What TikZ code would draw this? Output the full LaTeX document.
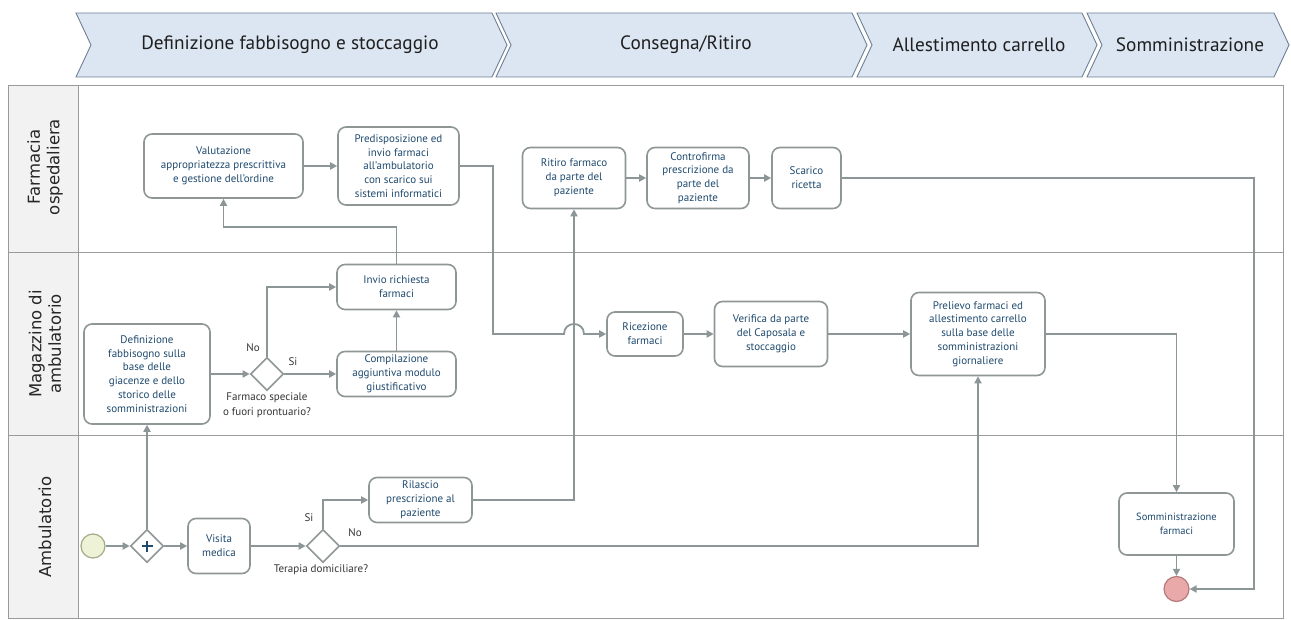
\documentclass[tikz,border=0pt]{standalone}
\usepackage{fontspec}
\setmainfont{PT Sans}
\newfontfamily\lanefont{DejaVu Sans}
\usetikzlibrary{arrows.meta,shapes.geometric}

\definecolor{boxline}{HTML}{8E9696}
\definecolor{boxtext}{HTML}{1F4A6E}
\definecolor{flowline}{HTML}{8C9696}
\definecolor{chevfill}{HTML}{DCE6F2}
\definecolor{chevline}{HTML}{6F7F95}
\definecolor{laneline}{HTML}{9A9A9A}
\definecolor{lanehead}{HTML}{F2F2F2}
\definecolor{startfill}{HTML}{EEF3D8}
\definecolor{startline}{HTML}{A3AA86}
\definecolor{endfill}{HTML}{E9A9A9}
\definecolor{endline}{HTML}{B57A7A}
\definecolor{labeltext}{HTML}{333333}

\tikzset{
  chevron/.style={fill=chevfill, draw=chevline, line width=0.9pt, line join=miter},
  chevtext/.style={font=\fontsize{19.3}{22}\selectfont, text=black!88},
  lanetitle/.style={font=\lanefont\fontsize{16.5}{19.5}\selectfont, align=center, rotate=90, text=black!85},
  task/.style={draw=boxline, line width=1.6pt, rounded corners=8pt, fill=white,
    align=center, text=boxtext, font=\fontsize{11}{13.8}\selectfont, inner sep=2pt},
  gateway/.style={diamond, draw=boxline, line width=1.6pt, fill=white, aspect=1,
    minimum width=33pt, minimum height=33pt, inner sep=0pt},
  flow/.style={draw=flowline, line width=1.8pt, -{Triangle[length=7pt,width=7pt]}},
  lbl/.style={font=\fontsize{11}{14.5}\selectfont, text=labeltext, align=center}
}

\begin{document}
\begin{tikzpicture}[x=1pt,y=-1pt]
\useasboundingbox (0,0) rectangle (1291,620);

% phase chevrons
\draw[chevron] (76,13) -- (492,13) -- (507,45) -- (492,77) -- (76,77) -- (91,45) -- cycle;
\draw[chevron] (496,13) -- (852,13) -- (867,45) -- (852,77) -- (496,77) -- (511,45) -- cycle;
\draw[chevron] (857,13) -- (1082,13) -- (1097,45) -- (1082,77) -- (857,77) -- (872,45) -- cycle;
\draw[chevron] (1087,13) -- (1274,13) -- (1289,45) -- (1274,77) -- (1087,77) -- (1102,45) -- cycle;
\node[chevtext] (ph1) at (290,45) {Definizione fabbisogno e stoccaggio};
\node[chevtext] (ph2) at (686,45) {Consegna/Ritiro};
\node[chevtext] (ph3) at (979,45) {Allestimento carrello};
\node[chevtext] (ph4) at (1190,45) {Somministrazione};

% swimlanes
\fill[lanehead] (8,86) rectangle (78,618);
\draw[laneline, line width=1pt] (8,86) rectangle (1283,618);
\draw[laneline, line width=1pt] (78,86) -- (78,618);
\draw[laneline, line width=1pt] (8,253) -- (1283,253);
\draw[laneline, line width=1pt] (8,435) -- (1283,435);
\node[lanetitle] (lane1) at (45,167) {Farmacia\\ospedaliera};
\node[lanetitle] (lane2) at (45,344) {Magazzino di\\ambulatorio};
\node[lanetitle] (lane3) at (45,527) {Ambulatorio};

% tasks
\node[task, minimum width=159pt, minimum height=64pt] (valut) at (223.5,166)
  {Valutazione\\appropriatezza prescrittiva\\e gestione dell’ordine};
\node[task, minimum width=121pt, minimum height=78pt] (pred) at (398.5,166)
  {Predisposizione ed\\invio farmaci\\all’ambulatorio\\con scarico sui\\sistemi informatici};
\node[task, minimum width=103pt, minimum height=61pt] (ritiro) at (574,178)
  {Ritiro farmaco\\da parte del\\paziente};
\node[task, minimum width=102pt, minimum height=61pt] (contro) at (698,178)
  {Controfirma\\prescrizione da\\parte del\\paziente};
\node[task, minimum width=69pt, minimum height=61pt] (scarico) at (806.5,178)
  {Scarico\\ricetta};
\node[task, minimum width=119pt, minimum height=45pt] (invio) at (396.5,287)
  {Invio richiesta\\farmaci};
\node[task, minimum width=119pt, minimum height=45pt] (compil) at (396.5,374)
  {Compilazione\\aggiuntiva modulo\\giustificativo};
\node[task, minimum width=126pt, minimum height=100pt] (defin) at (147,374)
  {Definizione\\fabbisogno sulla\\base delle\\giacenze e dello\\storico delle\\somministrazioni};
\node[task, minimum width=76pt, minimum height=44pt] (ricez) at (645,334)
  {Ricezione\\farmaci};
\node[task, minimum width=113pt, minimum height=65pt] (verif) at (771,334)
  {Verifica da parte\\del Caposala e\\stoccaggio};
\node[task, minimum width=134pt, minimum height=83pt] (preliev) at (978,334)
  {Prelievo farmaci ed\\allestimento carrello\\sulla base delle\\somministrazioni\\giornaliere};
\node[task, minimum width=103pt, minimum height=45pt] (rilascio) at (420.5,500)
  {Rilascio\\prescrizione al\\paziente};
\node[task, minimum width=62pt, minimum height=55pt] (visita) at (219,546)
  {Visita\\medica};
\node[task, minimum width=115pt, minimum height=62pt, font=\fontsize{10.5}{13.5}\selectfont] (somm) at (1176.5,524)
  {Somministrazione\\farmaci};

% gateways and events
\node[gateway] (gw1) at (267,374) {};
\node[gateway] (par) at (147,546) {};
\draw[boxtext, line width=1.4pt] ([xshift=-5.5pt]par.center) -- ([xshift=5.5pt]par.center)
  ([yshift=-5.5pt]par.center) -- ([yshift=5.5pt]par.center);
\node[gateway] (gw2) at (323,546) {};
\node[circle, draw=startline, fill=startfill, line width=1.2pt, minimum size=24pt, inner sep=0pt] (start) at (93,546) {};
\node[circle, draw=endline, fill=endfill, line width=1.2pt, minimum size=25pt, inner sep=0pt] (end) at (1176.5,589) {};

% gateway labels
\node[lbl] (no1) at (253,348) {No};
\node[lbl] (si1) at (293,362) {Si};
\node[lbl] (q1) at (267,405) {Farmaco speciale\\o fuori prontuario?};
\node[lbl] (si2) at (309,518) {Si};
\node[lbl] (no2) at (355,533) {No};
\node[lbl] (q2) at (321,570) {Terapia domiciliare?};

% turning points
\coordinate (j1) at (396.5,227);
\coordinate (p1) at (493,166);
\coordinate (p2) at (493,334);
\coordinate (h1) at (564,334);
\coordinate (h2) at (584,334);
\coordinate (s1) at (1254,178);
\coordinate (s2) at (1254,589);

% sequence flows
\draw[flow] (start) -- (par);
\draw[flow] (par) -- (defin);
\draw[flow] (par) -- (visita);
\draw[flow] (visita) -- (gw2);
\draw[flow] (gw2.north) |- (rilascio.west);
\draw[flow] (gw2.east) -| (preliev.south);
\draw[flow] (rilascio.east) -| (ritiro.south);
\draw[flow] (defin) -- (gw1);
\draw[flow] (gw1.north) |- (invio.west);
\draw[flow] (gw1) -- (compil);
\draw[flow] (compil) -- (invio);
\draw[flow] (invio.north) -- (j1) -| (valut.south);
\draw[flow] (valut) -- (pred);
\draw[flow] (pred.east) -- (p1) -- (p2) -- (h1)
  .. controls ([yshift=13.3pt]h1) and ([yshift=13.3pt]h2) .. (h2) -- (ricez.west);
\draw[flow] (ritiro) -- (contro);
\draw[flow] (contro) -- (scarico);
\draw[flow] (scarico.east) -- (s1) -- (s2) -- (end.east);
\draw[flow] (ricez) -- (verif);
\draw[flow] (verif) -- (preliev);
\draw[flow] (preliev.east) -| (somm.north);
\draw[flow] (somm) -- (end);
\end{tikzpicture}
\end{document}
